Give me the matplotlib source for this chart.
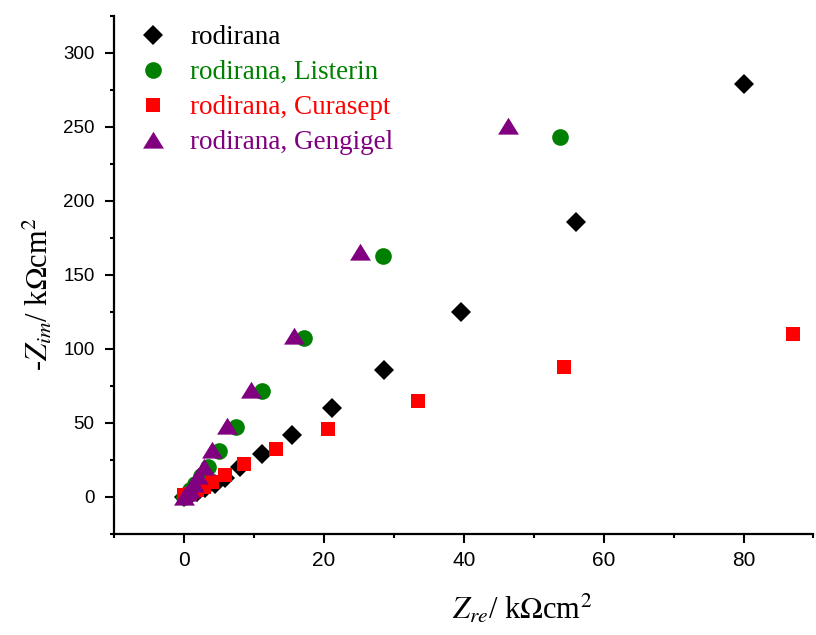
"""Nyquist plot of rodirana samples in different mouthwash solutions."""

import matplotlib

matplotlib.use("Agg")
import matplotlib.pyplot as plt
from matplotlib.ticker import MultipleLocator

plt.rcParams["mathtext.fontset"] = "stix"

# data, kOhm cm^2
zre_rodirana = [0.0, 0.8, 1.8, 3.0, 4.5, 5.9, 8.0, 11.2, 15.5, 21.2, 28.6, 39.6, 56.1, 80.0]
zim_rodirana = [0.0, 1.5, 3.5, 6.0, 8.5, 13.0, 20.0, 29.0, 41.8, 60.0, 86.0, 125.3, 185.5, 279.0]

zre_listerin = [0.0, 0.4, 0.9, 1.6, 2.4, 3.5, 5.0, 7.5, 11.2, 17.2, 28.5, 53.8]
zim_listerin = [0.0, 2.0, 5.0, 9.0, 14.0, 20.5, 31.0, 47.3, 71.6, 107.4, 162.8, 243.0]

zre_curasept = [0.0, 0.8, 1.8, 2.8, 4.0, 5.8, 8.6, 13.2, 20.6, 33.5, 54.4, 87.1]
zim_curasept = [1.0, 2.0, 4.5, 6.5, 10.0, 15.0, 22.5, 32.5, 46.0, 65.0, 87.8, 110.0]

zre_gengigel = [0.0, 0.4, 0.8, 1.4, 2.0, 2.8, 4.0, 6.1, 9.6, 15.8, 25.1, 46.4]
zim_gengigel = [0.0, 2.5, 5.0, 9.0, 14.0, 20.3, 31.5, 48.0, 72.3, 108.8, 165.5, 250.7]

# Origin style triangle: wider than tall
wide_triangle = [(-1.0, -0.78), (1.0, -0.78), (0.0, 0.84), (-1.0, -0.78)]

series = [
    ("rodirana", zre_rodirana, zim_rodirana, "D", "black", 10.5),
    ("rodirana, Listerin", zre_listerin, zim_listerin, "o", "green", 12),
    ("rodirana, Curasept", zre_curasept, zim_curasept, "s", "red", 10.5),
    ("rodirana, Gengigel", zre_gengigel, zim_gengigel, wide_triangle, "purple", 15),
]

fig = plt.figure(figsize=(8.16, 6.35), dpi=100)
ax = fig.add_axes([0.1397, 0.1591, 0.8572, 0.8157])

for label, xs, ys, marker, color, size in series:
    ax.plot(xs, ys, linestyle="none", marker=marker, color=color,
            markersize=size, markeredgewidth=0, label=label)

ax.set_xlim(-10, 90)
ax.set_ylim(-25, 325)
ax.xaxis.set_major_locator(MultipleLocator(20))
ax.xaxis.set_minor_locator(MultipleLocator(10))
ax.yaxis.set_major_locator(MultipleLocator(50))
ax.yaxis.set_minor_locator(MultipleLocator(25))

for side in ["top", "right"]:
    ax.spines[side].set_visible(False)
for side in ["left", "bottom"]:
    ax.spines[side].set_linewidth(1.6)

ax.tick_params(which="major", direction="out", length=6.5, width=1.5)
ax.tick_params(which="minor", direction="out", length=3, width=1.5)
ax.tick_params(axis="x", which="major", labelsize=15, pad=6)
ax.tick_params(axis="y", which="major", labelsize=13.5, pad=7.5)
for lab in ax.get_xticklabels() + ax.get_yticklabels():
    lab.set_fontfamily("Liberation Sans")

ax.set_xlabel(r"$Z_{re}$/ k$\Omega$cm$^2$", fontsize=22,
              fontfamily="Liberation Serif")
ax.set_ylabel(r"-$Z_{im}$/ k$\Omega$cm$^2$", fontsize=22,
              fontfamily="Liberation Serif")
ax.xaxis.set_label_coords(0.583, -0.112)
ax.yaxis.set_label_coords(-0.084, 0.463)

leg = ax.legend(loc="upper left", frameon=False, handlelength=2.0,
                handletextpad=0.37, borderpad=0, borderaxespad=0,
                labelspacing=0.37,
                prop={"family": "Liberation Serif", "size": 19.5},
                bbox_to_anchor=(0.017, 0.982))
for text, (_, _, _, _, color, _) in zip(leg.get_texts(), series):
    text.set_color(color)

fig.savefig("out.png", dpi=100)
